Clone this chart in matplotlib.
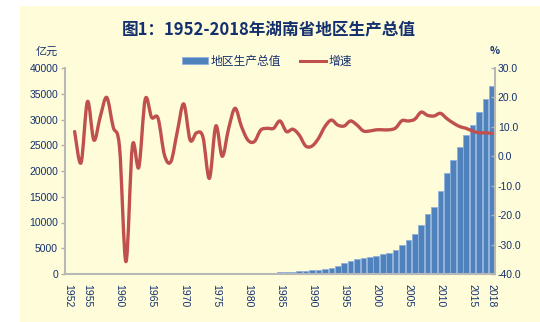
import matplotlib.pyplot as plt
from matplotlib.path import Path
from matplotlib.patches import PathPatch
from matplotlib.lines import Line2D
from matplotlib.patches import Patch

plt.rcParams['font.family'] = ['Noto Sans CJK SC', 'DejaVu Sans']

# 湖南省地区生产总值（亿元）及增速（%）
years = list(range(1952, 2019))
gdp = [27.81, 32.06, 33.22, 35.75, 38.53, 42.65, 54.27, 59.20, 60.99, 49.64,
       46.69, 46.17, 51.87, 61.58, 66.88, 64.70, 63.71, 72.34, 86.64, 93.61,
       95.65, 103.02, 99.16, 107.87, 104.84, 121.23, 146.99, 178.01, 191.72, 209.68,
       232.52, 257.43, 287.29, 349.95, 397.68, 469.44, 584.07, 640.80, 744.44, 833.30,
       986.98, 1244.71, 1650.02, 2132.13, 2540.13, 2849.27, 3025.53, 3214.54, 3551.49, 3831.90,
       4151.54, 4659.99, 5641.94, 6596.10, 7688.67, 9439.60, 11555.00, 13059.69, 16037.96, 19669.56,
       22154.23, 24621.67, 27037.32, 28902.21, 31551.37, 33902.96, 36425.78]
growth_years = list(range(1953, 2019))
growth = [8.4, -2.2, 18.6, 5.5, 13.5, 20.0, 10.0, 3.0, -35.8, 3.5,
          -3.7, 19.4, 13.2, 12.9, 0.4, -1.8, 8.4, 17.8, 5.5, 8.0,
          6.5, -7.5, 10.3, 0.0, 9.5, 16.3, 10.1, 5.5, 5.0, 8.9,
          9.5, 9.5, 12.0, 8.4, 9.2, 7.2, 3.5, 3.5, 6.1, 10.1,
          12.3, 10.6, 10.3, 12.0, 10.6, 8.6, 8.6, 9.0, 9.0, 9.0,
          9.6, 12.1, 12.0, 12.6, 15.0, 13.9, 13.7, 14.6, 12.8, 11.3,
          10.1, 9.5, 8.6, 8.0, 8.0, 7.8]
tick_years = [1952, 1955, 1960, 1965, 1970, 1975, 1980, 1985, 1990, 1995,
              2000, 2005, 2010, 2015, 2018]

navy = '#14306e'
bg = '#fffdd9'
bar_color = '#4f81bd'
line_color = '#c0504d'


def smooth_path(xs, ys):
    # Catmull-Rom 转三次贝塞尔，得到平滑曲线
    pts = list(zip(xs, ys))
    verts = [pts[0]]
    codes = [Path.MOVETO]
    n = len(pts)
    for i in range(n - 1):
        p0 = pts[i - 1] if i > 0 else pts[i]
        p1 = pts[i]
        p2 = pts[i + 1]
        p3 = pts[i + 2] if i + 2 < n else pts[i + 1]
        c1 = (p1[0] + (p2[0] - p0[0]) / 6, p1[1] + (p2[1] - p0[1]) / 6)
        c2 = (p2[0] - (p3[0] - p1[0]) / 6, p2[1] - (p3[1] - p1[1]) / 6)
        verts += [c1, c2, p2]
        codes += [Path.CURVE4] * 3
    return Path(verts, codes)


fig = plt.figure(figsize=(5.4, 3.22), dpi=100)
fig.patch.set_facecolor('white')
fig.patches.append(plt.Rectangle((20 / 540, 0), 1 - 20 / 540, 1 - 6 / 322,
                                 transform=fig.transFigure, facecolor=bg,
                                 edgecolor='none', zorder=-1))

ax = fig.add_axes([65 / 540, 1 - 274 / 322, 430 / 540, 206 / 322])
ax.set_facecolor('none')
x = [y - 1952 for y in years]
ax.bar(x, gdp, width=0.88, color=bar_color, edgecolor='#8eb0dc', linewidth=0.6, zorder=2)
ax.set_xlim(-0.5, len(years) - 0.5)
ax.set_ylim(0, 40000)
ax.set_yticks(range(0, 40001, 5000))
ax.set_xticks([y - 1952 for y in tick_years])
ax.set_xticklabels([str(y) for y in tick_years], rotation=-90, fontsize=7.5,
                   family='Liberation Sans', color=navy)
ax.tick_params(axis='x', length=0, pad=7)
ax.tick_params(axis='y', labelsize=7.5, labelcolor=navy, color='#b0b0b0',
               length=3, width=1, pad=2)
for lab in ax.get_yticklabels():
    lab.set_family('Liberation Sans')
for side in ['top', 'right']:
    ax.spines[side].set_visible(False)
for side in ['left', 'bottom']:
    ax.spines[side].set_color('#b8b8b8')
    ax.spines[side].set_linewidth(1.5)

ax2 = ax.twinx()
ax2.set_ylim(-40, 30)
ax2.set_yticks(range(-40, 31, 10))
ax2.set_yticklabels([f'{v:.1f}' for v in range(-40, 31, 10)])
ax2.tick_params(axis='y', labelsize=7.5, labelcolor=navy, color='#b0b0b0',
                length=3, width=1, pad=2, direction='in')
for lab in ax2.get_yticklabels():
    lab.set_family('Liberation Sans')
for side in ['top', 'left', 'bottom']:
    ax2.spines[side].set_visible(False)
ax2.spines['right'].set_color('#b8b8b8')
ax2.spines['right'].set_linewidth(1.5)

gx = [y - 1952 for y in growth_years]
ax2.add_patch(PathPatch(smooth_path(gx, growth), facecolor='none',
                        edgecolor=line_color, linewidth=2.4, capstyle='round',
                        joinstyle='round', zorder=3))

fig.text(269 / 540, 1 - 29 / 322, '图1：1952-2018年湖南省地区生产总值',
         ha='center', va='center', fontsize=12, fontweight='bold', color=navy)
fig.text(47 / 540, 1 - 52 / 322, '亿元', ha='center', va='center',
         fontsize=8, color=navy)
fig.text(495 / 540, 1 - 51 / 322, '%', ha='center', va='center',
         fontsize=7.5, color=navy, fontweight='bold')

handles = [Patch(facecolor=bar_color, edgecolor='#8eb0dc', linewidth=0.6),
           Line2D([0], [0], color=line_color, linewidth=2.2)]
fig.legend(handles, ['地区生产总值', '增速'], loc='center',
           bbox_to_anchor=(267 / 540, 1 - 61 / 322), ncol=2, frameon=False,
           fontsize=8.5, labelcolor=navy, handlelength=2.2, handleheight=0.5,
           handletextpad=0.2, columnspacing=1.6)

fig.savefig('out.png', dpi=100, facecolor=fig.get_facecolor())
